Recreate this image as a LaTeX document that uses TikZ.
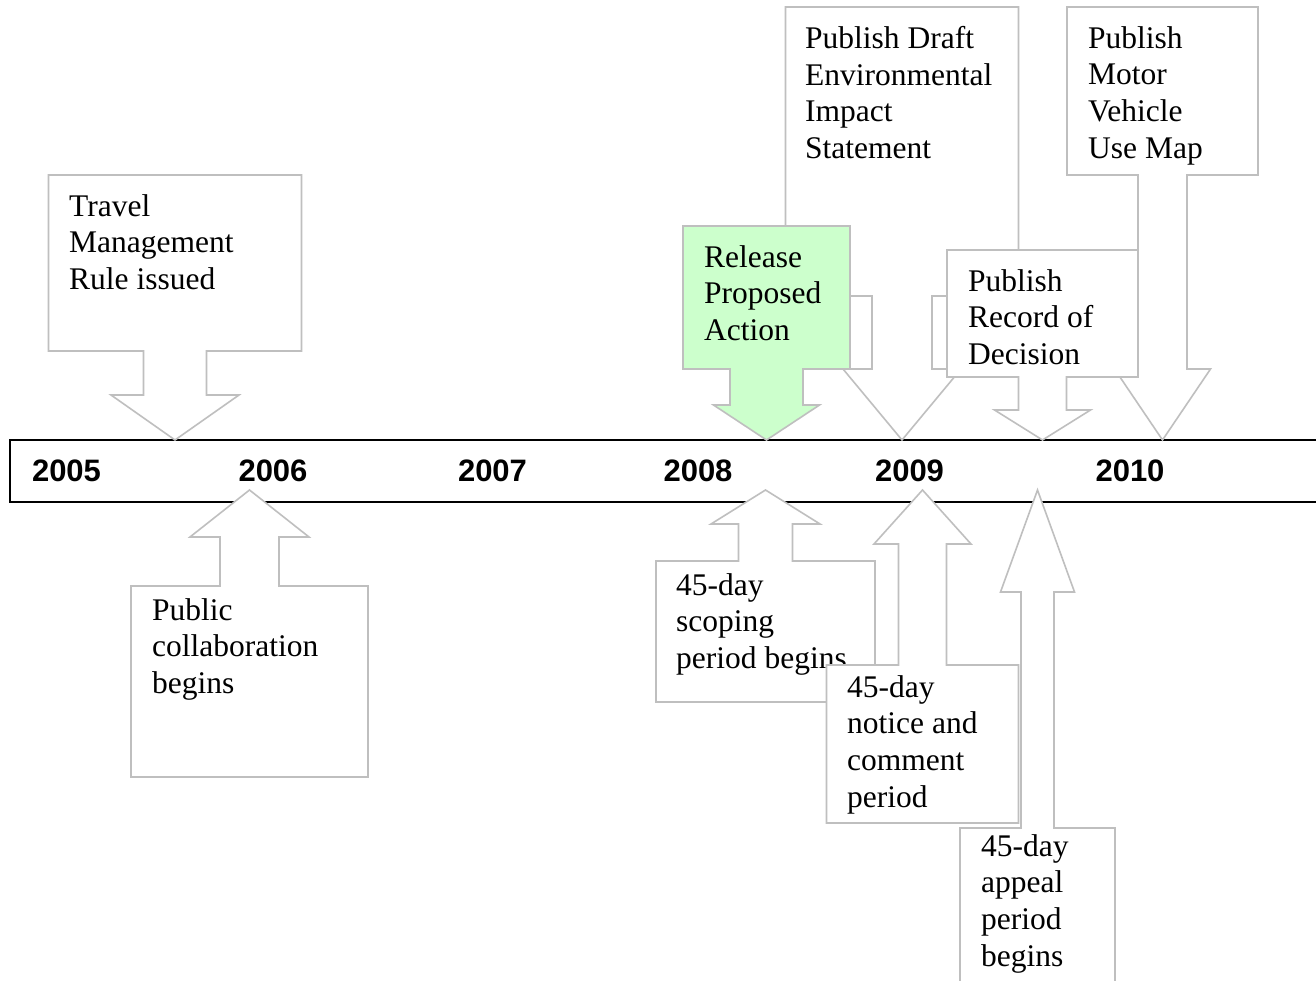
\documentclass[tikz,border=0pt]{standalone}
\usepackage{fontspec}
\setmainfont{Liberation Serif}
\setsansfont{Liberation Sans}
\usetikzlibrary{positioning}
\definecolor{rim}{RGB}{191,191,191}
\definecolor{mint}{RGB}{204,255,204}
\tikzset{
  callout/.style={draw=rim,line width=1.6pt,fill=#1,line join=miter},
  callout/.default=white,
  note/.style={anchor=north west,inner sep=0pt,align=left,
    font=\fontsize{31.5}{36.8}\selectfont},
  year/.style={inner sep=0pt,font=\sffamily\bfseries\fontsize{31}{36}\selectfont},
  bar/.style={draw=black,line width=2pt},
}
% callout: [fill]{centre x}{box half width}{far edge}{near edge}{stem half width}{head half width}{head base}{tip}
\newcommand{\callout}[9][white]{%
  \draw[callout=#1] (#2-#3,#4) -- (#2+#3,#4) -- (#2+#3,#5) -- (#2+#6,#5) -- (#2+#6,#8)
    -- (#2+#7,#8) -- (#2,#9) -- (#2-#7,#8) -- (#2-#6,#8) -- (#2-#6,#5) -- (#2-#3,#5) -- cycle;}

\begin{document}
\begin{tikzpicture}[x=1pt,y=-1pt]
    \useasboundingbox (0,0) rectangle (1316,981);
    \clip (0,0) rectangle (1316,981);
    \fill[white] (0,0) rectangle (1316,981);
    \draw[bar] (10,440) rectangle (1340,502);
    \foreach \t/\x [count=\i] in {2005/66.5,2006/273,2007/492.5,2008/698,2009/909.5,2010/1130}
      \node[year] (y\i) at (\x,471) {\t};
    % above the line
    \callout{175}{126.5}{175}{351}{31.5}{64}{395}{440}
    \node[note] (travel) at (69,194) {Travel\\Management\\Rule issued};
    \callout{902}{116.5}{7}{296}{30}{59}{369}{440}
    \node[note] (draft) at (805,26) {Publish Draft\\Environmental\\Impact\\Statement};
    \callout{1162.5}{95.5}{7}{175}{24.5}{48}{369}{440}
    \node[note] (mvum) at (1088,26) {Publish\\Motor\\Vehicle\\Use Map};
    \callout[mint]{766.5}{83.5}{226}{369}{36.5}{53}{405}{440}
    \node[note] (release) at (704,245) {Release\\Proposed\\Action};
    \callout{1042.5}{95.5}{250}{377}{24}{48}{410}{440}
    \node[note] (decision) at (968,269) {Publish\\Record of\\Decision};
    % below the line
    \callout{249.5}{118.5}{777}{586}{29.5}{59.5}{537}{490}
    \node[note] (public) at (152,598) {Public\\collaboration\\begins};
    \callout{765.5}{109.5}{702}{561}{27}{54.5}{524}{490}
    \node[note] (scoping) at (676,573) {45-day\\scoping\\period begins};
    \callout{922.5}{96}{823}{665}{24}{48.5}{544}{490}
    \node[note] (notice) at (847,675) {45-day\\notice and\\comment\\period};
    \callout{1037.5}{77.5}{1010}{828}{16.5}{37}{592}{490}
    \node[note] (appeal) at (981,834) {45-day\\appeal\\period\\begins};
\end{tikzpicture}
\end{document}
